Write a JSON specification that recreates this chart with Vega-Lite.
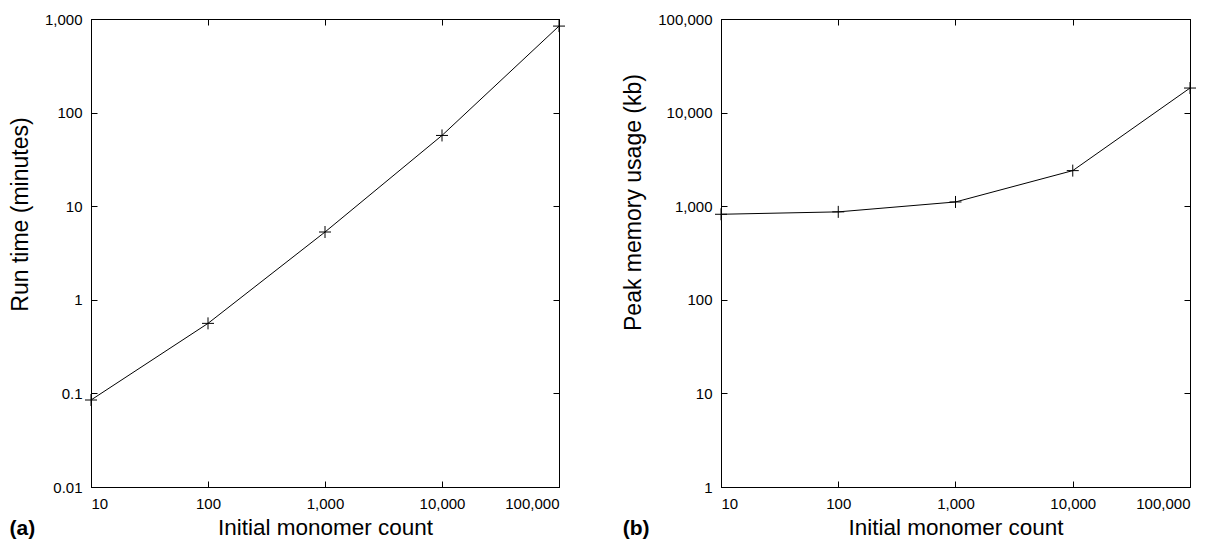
{
  "$schema": "https://vega.github.io/schema/vega-lite/v6.json",
  "padding": {"left": 8, "top": 11, "right": 0, "bottom": 0},
  "background": "white",
  "datasets": {
    "runtime": [
      {"count": 10, "minutes": 0.085},
      {"count": 100, "minutes": 0.56},
      {"count": 1000, "minutes": 5.3},
      {"count": 10000, "minutes": 57},
      {"count": 100000, "minutes": 840}
    ],
    "memory": [
      {"count": 10, "kb": 820},
      {"count": 100, "kb": 870},
      {"count": 1000, "kb": 1110},
      {"count": 10000, "kb": 2400},
      {"count": 100000, "kb": 18300}
    ]
  },
  "spacing": 54,
  "hconcat": [
    {
      "width": 468,
      "height": 468,
      "data": {"name": "runtime"},
      "title": {"text": "(a)", "orient": "bottom", "anchor": "start", "frame": "bounds", "fontSize": 21, "fontWeight": "bold", "font": "Liberation Sans", "color": "black", "offset": -21},
      "layer": [
        {
          "mark": {"type": "line", "color": "black", "strokeWidth": 1},
          "encoding": {
            "x": {"field": "count", "type": "quantitative", "scale": {"type": "log", "domain": [10, 100000]},
              "axis": {"orient": "bottom", "title": "Initial monomer count", "titlePadding": 5, "values": [10, 100, 1000, 10000, 100000], "format": ","}},
            "y": {"field": "minutes", "type": "quantitative", "scale": {"type": "log", "domain": [0.01, 1000]},
              "axis": {"orient": "left", "title": "Run time (minutes)", "titleFontSize": 23, "titleY": 195, "values": [0.01, 0.1, 1, 10, 100, 1000], "format": ","}}
          }
        },
        {
          "mark": {"type": "point", "shape": "M-1,0H1M0,-1V1", "size": 144, "filled": false, "stroke": "black", "strokeWidth": 1, "opacity": 1},
          "encoding": {
            "x": {"field": "count", "type": "quantitative",
              "axis": {"orient": "top", "title": null, "labels": false, "values": [10, 100, 1000, 10000, 100000]}},
            "y": {"field": "minutes", "type": "quantitative",
              "axis": {"orient": "right", "title": null, "labels": false, "values": [0.01, 0.1, 1, 10, 100, 1000]}}
          }
        }
      ],
      "resolve": {"axis": {"x": "independent", "y": "independent"}}
    },
    {
      "width": 469,
      "height": 468,
      "data": {"name": "memory"},
      "title": {"text": "(b)", "orient": "bottom", "anchor": "start", "frame": "bounds", "fontSize": 21, "fontWeight": "bold", "font": "Liberation Sans", "color": "black", "offset": -21},
      "layer": [
        {
          "mark": {"type": "line", "color": "black", "strokeWidth": 1},
          "encoding": {
            "x": {"field": "count", "type": "quantitative", "scale": {"type": "log", "domain": [10, 100000]},
              "axis": {"orient": "bottom", "title": "Initial monomer count", "titlePadding": 5, "values": [10, 100, 1000, 10000, 100000], "format": ","}},
            "y": {"field": "kb", "type": "quantitative", "scale": {"type": "log", "domain": [1, 100000]},
              "axis": {"orient": "left", "title": "Peak memory usage (kb)", "titleFontSize": 23, "titleY": 183, "values": [1, 10, 100, 1000, 10000, 100000], "format": ","}}
          }
        },
        {
          "mark": {"type": "point", "shape": "M-1,0H1M0,-1V1", "size": 144, "filled": false, "stroke": "black", "strokeWidth": 1, "opacity": 1},
          "encoding": {
            "x": {"field": "count", "type": "quantitative",
              "axis": {"orient": "top", "title": null, "labels": false, "values": [10, 100, 1000, 10000, 100000]}},
            "y": {"field": "kb", "type": "quantitative",
              "axis": {"orient": "right", "title": null, "labels": false, "values": [1, 10, 100, 1000, 10000, 100000]}}
          }
        }
      ],
      "resolve": {"axis": {"x": "independent", "y": "independent"}}
    }
  ],
  "config": {
    "view": {"stroke": "black", "strokeWidth": 1},
    "axis": {
      "grid": false,
      "domainColor": "black",
      "domainWidth": 1,
      "tickColor": "black",
      "tickWidth": 1,
      "tickSize": -6,
      "labelColor": "black",
      "labelFont": "Liberation Sans",
      "labelFontSize": 15,
      "labelPadding": 15,
      "titleFont": "Liberation Sans",
      "titleFontSize": 22.5,
      "titleFontWeight": "normal",
      "titleColor": "black",
      "titlePadding": 12
    }
  }
}
